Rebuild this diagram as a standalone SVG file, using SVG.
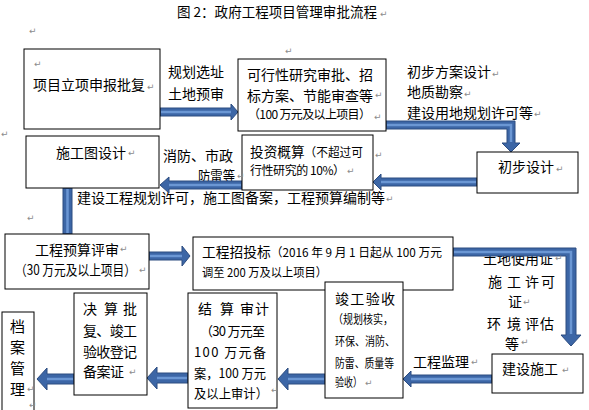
<svg xmlns="http://www.w3.org/2000/svg" width="589" height="410" viewBox="0 0 589 410">
<style>
.t{font-family:"Noto Sans CJK SC","Noto Sans",sans-serif;font-size:14px;fill:#000}
.s{font-size:12px}
.m{font-size:13px}
.pm{font-family:"DejaVu Sans",sans-serif;font-size:9px;fill:#8c8c8c}
.box{fill:#fff;stroke:#000;stroke-width:1}
.ar{fill:#3c66a6;stroke:#2c4c80;stroke-width:1;stroke-linejoin:miter}
.hl{fill:none;stroke:#6b97d4;stroke-width:2.5}
</style>
<rect width="589" height="410" fill="#fff"/>
<g id="title">
<text class="t" x="177" y="17" style="font-size:13.5px" textLength="200" lengthAdjust="spacingAndGlyphs">图 2：政府工程项目管理审批流程</text>
</g>
<g id="labels">
<text class="t" x="168" y="77">规划选址</text>
<text class="t" x="168" y="99">土地预审</text>
<text class="t" x="407" y="77">初步方案设计</text>
<text class="t" x="407" y="97">地质勘察</text>
<text class="t" x="407" y="118">建设用地规划许可等</text>
<text class="t" x="163" y="161">消防、市政</text>
<text class="t" x="198" y="181" textLength="37" lengthAdjust="spacingAndGlyphs">防雷等</text>
<text class="t" x="77" y="203">建设工程规划许可，施工图备案，工程预算编制等</text>
<text class="t" x="483" y="264" textLength="70">土地使用证</text>
<text class="t" x="488 507 525 541" y="287">施工许可</text>
<text class="t" x="508" y="307">证</text>
<text class="t" x="487 507 525 540" y="329">环境评估</text>
<text class="t" x="505" y="349">等</text>
<text class="t" x="413" y="367">工程监理</text>
</g>
<g id="connectors">
<polygon class="ar" points="160,108 231,108 231,104 238,112 231,120 231,116 160,116"/>
<polyline class="hl" points="161,112 231,112"/>
<polygon class="ar" points="386,121 515,121 515,143 520,143 511,152 502,143 507,143 507,129 386,129"/>
<polyline class="hl" points="387,125 511,125 511,142"/>
<polygon class="ar" points="477,178 381,178 381,174 373,182 381,190 381,186 477,186"/>
<polyline class="hl" points="476,182 381,182"/>
<polygon class="ar" points="242,181 169,181 169,177 160,185 169,193 169,189 242,189"/>
<polyline class="hl" points="241,185 169,185"/>
<rect class="ar" x="63" y="188" width="9" height="46"/>
<polyline class="hl" points="67.5,189 67.5,233"/>
<polygon class="ar" points="149,252 182,252 182,246 190,256 182,266 182,260 149,260"/>
<polyline class="hl" points="150,256 182,256"/>
<polygon class="ar" points="453,248 576,248 576,335 581,335 571,346 561,335 566,335 566,256 453,256"/>
<polyline class="hl" points="454,252 571,252 571,334"/>
<polygon class="ar" points="492,375 411,375 411,371 403,379 411,387 411,383 492,383"/>
<polyline class="hl" points="491,379 411,379"/>
<polygon class="ar" points="325,374 288,374 288,368 278,379 288,390 288,384 325,384"/>
<polyline class="hl" points="324,379 288,379"/>
<polygon class="ar" points="188,373 157,373 157,367 147,378 157,389 157,383 188,383"/>
<polyline class="hl" points="187,378 157,378"/>
<polygon class="ar" points="74,374 47,374 47,368 37,379 47,390 47,384 74,384"/>
<polyline class="hl" points="73,379 47,379"/>
</g>
<g id="n-lixiang">
<rect class="box" x="24" y="49" width="136" height="80"/>
<text class="t" x="33" y="90">项目立项申报批复</text>
</g>
<g id="n-kexing">
<rect class="box" x="238" y="59" width="148" height="72"/>
<text class="t" x="247" y="80">可行性研究审批、招</text>
<text class="t" x="247" y="101">标方案、节能审查等</text>
<text class="t s" x="248" y="119" textLength="123">（100 万元及以上项目）</text>
</g>
<g id="n-chubu">
<rect class="box" x="477" y="152" width="101" height="41"/>
<text class="t" x="498" y="172">初步设计</text>
</g>
<g id="n-touzi">
<rect class="box" x="242" y="135" width="131" height="55"/>
<text class="t" x="250" y="157" textLength="113" lengthAdjust="spacingAndGlyphs">投资概算<tspan class="s">（不超过可</tspan></text>
<text class="t s" x="250" y="175" textLength="95">行性研究的 10%）</text>
</g>
<g id="n-shigongtu">
<rect class="box" x="26" y="136" width="133" height="52"/>
<text class="t" x="56" y="158">施工图设计</text>
</g>
<g id="n-yusuan">
<rect class="box" x="5" y="234" width="144" height="55"/>
<text class="t" x="35" y="255">工程预算评审</text>
<text class="t" x="15" y="275" textLength="121" lengthAdjust="spacingAndGlyphs">（30 万元及以上项目）</text>
</g>
<g id="n-zhaotoubiao">
<rect class="box" x="193" y="237" width="260" height="53"/>
<text class="t" x="202" y="257" textLength="240" lengthAdjust="spacingAndGlyphs">工程招投标<tspan class="s">（2016 年 9 月 1 日起从 100 万元</tspan></text>
<text class="t s" x="202" y="277" textLength="125" lengthAdjust="spacingAndGlyphs">调至 200 万及以上项目）</text>
</g>
<g id="n-jianshe">
<rect class="box" x="492" y="354" width="91" height="39"/>
<text class="t" x="502" y="374">建设施工</text>
</g>
<g id="n-jungong">
<rect class="box" x="325" y="282" width="78" height="116"/>
<text class="t" x="335" y="304" textLength="60">竣工验收</text>
<text class="t s" x="333" y="324" textLength="60" lengthAdjust="spacingAndGlyphs">（规划核实，</text>
<text class="t s" x="335" y="346" textLength="60" lengthAdjust="spacingAndGlyphs">环保、消防、</text>
<text class="t s" x="335" y="368" textLength="59" lengthAdjust="spacingAndGlyphs">防雷、质量等</text>
<text class="t s" x="335" y="387" textLength="27" lengthAdjust="spacingAndGlyphs">验收）</text>
</g>
<g id="n-jiesuan">
<rect class="box" x="188" y="293" width="89" height="115"/>
<text class="t" x="198 220 240 255" y="314">结算审计</text>
<text class="t m" x="200" y="336" textLength="65">（30 万元至</text>
<text class="t m" x="194" y="357" textLength="72">100 万元备</text>
<text class="t m" x="194" y="378" textLength="72" lengthAdjust="spacingAndGlyphs">案，100 万元</text>
<text class="t m" x="194" y="398" textLength="74" lengthAdjust="spacingAndGlyphs">及以上审计）</text>
</g>
<g id="n-juesuan">
<rect class="box" x="74" y="293" width="73" height="102"/>
<text class="t" x="83 104 123" y="314">决算批</text>
<text class="t" x="83" y="336" textLength="54">复、竣工</text>
<text class="t" x="83" y="357" textLength="54">验收登记</text>
<text class="t" x="83" y="377" textLength="41">备案证</text>
</g>
<g id="n-dangan">
<rect class="box" x="2" y="312" width="32" height="104"/>
<text class="t" x="10" y="332" style="font-size:15px">档</text>
<text class="t" x="10" y="353" style="font-size:15px">案</text>
<text class="t" x="10" y="374" style="font-size:15px">管</text>
<text class="t" x="10" y="395" style="font-size:15px">理</text>
</g>
<g id="marks">
<text class="pm" x="380" y="17">↵</text>
<text class="pm" x="29" y="34">↵</text>
<text class="pm" x="285" y="54">↵</text>
<text class="pm" x="34" y="67">↵</text>
<text class="pm" x="147" y="90">↵</text>
<text class="pm" x="1" y="137">↵</text>
<text class="pm" x="375" y="98">↵</text>
<text class="pm" x="374" y="120">↵</text>
<text class="pm" x="492" y="77">↵</text>
<text class="pm" x="464" y="97">↵</text>
<text class="pm" x="534" y="117">↵</text>
<text class="pm" x="556" y="172">↵</text>
<text class="pm" x="375" y="158">↵</text>
<text class="pm" x="347" y="174">↵</text>
<text class="pm" x="128" y="156">↵</text>
<text class="pm" x="237" y="179">↵</text>
<text class="pm" x="386" y="202">↵</text>
<text class="pm" x="27" y="221">↵</text>
<text class="pm" x="120" y="252">↵</text>
<text class="pm" x="139" y="273">↵</text>
<text class="pm" x="555" y="261">↵</text>
<text class="pm" x="523" y="305">↵</text>
<text class="pm" x="521" y="345">↵</text>
<text class="pm" x="471" y="365">↵</text>
<text class="pm" x="562" y="373">↵</text>
<text class="pm" x="365" y="386">↵</text>
<text class="pm" x="129" y="375">↵</text>
<text class="pm" x="271" y="393">↵</text>
<text class="pm" x="27" y="392">↵</text>
<text class="pm" x="29" y="408">↵</text>
</g>
</svg>
